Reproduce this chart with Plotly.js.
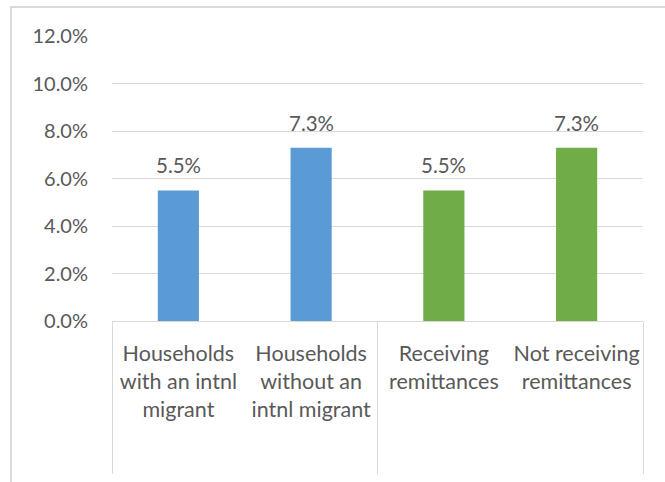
<!DOCTYPE html>
<html>
<head>
<meta charset="utf-8">
<script src="https://cdn.plot.ly/plotly-3.0.1.min.js"></script>
<style>
html,body{margin:0;padding:0;background:#fff;overflow:hidden;}
#chart{width:665px;height:482px;position:absolute;left:0;top:0;}
#frame{position:absolute;left:10px;top:6px;width:700px;height:600px;border-top:2px solid #D9D9D9;border-left:2px solid #D9D9D9;pointer-events:none;}
</style>
</head>
<body>
<div id="chart"></div>
<div id="frame"></div>
<script>
// Data
const categories = [
  "Households<br>with an intnl<br>migrant",
  "Households<br>without an<br>intnl migrant",
  "Receiving<br>remittances",
  "Not receiving<br>remittances"
];
const groups = ["migrant", "migrant", "remittance", "remittance"];
const values = [5.5, 7.3, 5.5, 7.3];          // percent
const yTickVals = [0, 2, 4, 6, 8, 10, 12];
const groupBoundaries = [-0.5, 1.5, 3.5];

const groupColors = {migrant: "#5B9BD5", remittance: "#70AD47"};
const textColor = "#595959";
const fontFam = "Lato, 'Open Sans', sans-serif";

const trace = {
  type: "bar",
  x: categories,
  y: values,
  marker: {color: groups.map(g => groupColors[g])},
  hoverinfo: "none",
  xaxis: "x",
  yaxis: "y"
};

// invisible helper trace for the group-boundary axis
const helper = {
  type: "scatter",
  x: groupBoundaries,
  y: groupBoundaries.map(() => null),
  xaxis: "x2",
  yaxis: "y",
  showlegend: false,
  hoverinfo: "none"
};

const annotations = categories.map((c, i) => ({
  x: c, y: values[i], xref: "x", yref: "y",
  text: values[i].toFixed(1) + "%",
  showarrow: false, yanchor: "bottom", yshift: 11,
  font: {family: fontFam, size: 20.5, color: textColor}
}));

const layout = {
  width: 665, height: 482,
  margin: {l: 112, r: 22, t: 36, b: 161, pad: 0},
  paper_bgcolor: "#FFFFFF",
  plot_bgcolor: "#FFFFFF",
  showlegend: false,
  bargap: 0.69,
  font: {family: fontFam, color: textColor, size: 20},
  xaxis: {
    type: "category",
    tickvals: categories,
    ticktext: categories,
    showline: true, linecolor: "#D9D9D9", linewidth: 1,
    showgrid: false, zeroline: false, ticks: "",
    ticklabelstandoff: 13,
    tickfont: {family: fontFam, size: 21.5, color: textColor},
    tickangle: 0,
    fixedrange: true
  },
  xaxis2: {
    overlaying: "x", anchor: "y", side: "bottom",
    range: [-0.5, 3.5],
    tickvals: groupBoundaries,
    ticks: "outside", ticklen: 152, tickwidth: 1, tickcolor: "#D9D9D9",
    showticklabels: false, showgrid: false, showline: false, zeroline: false,
    fixedrange: true
  },
  yaxis: {
    range: [0, 12],
    tickvals: yTickVals,
    ticktext: yTickVals.map(v => v.toFixed(1) + "%"),
    showgrid: true, gridcolor: "#D9D9D9", gridwidth: 1,
    zeroline: false, showline: false, ticks: "",
    ticklabelstandoff: 23,
    tickfont: {family: fontFam, size: 20, color: textColor},
    fixedrange: true
  },
  annotations: annotations
};

Plotly.newPlot("chart", [trace, helper], layout, {displayModeBar: false, staticPlot: true});
</script>
</body>
</html>
